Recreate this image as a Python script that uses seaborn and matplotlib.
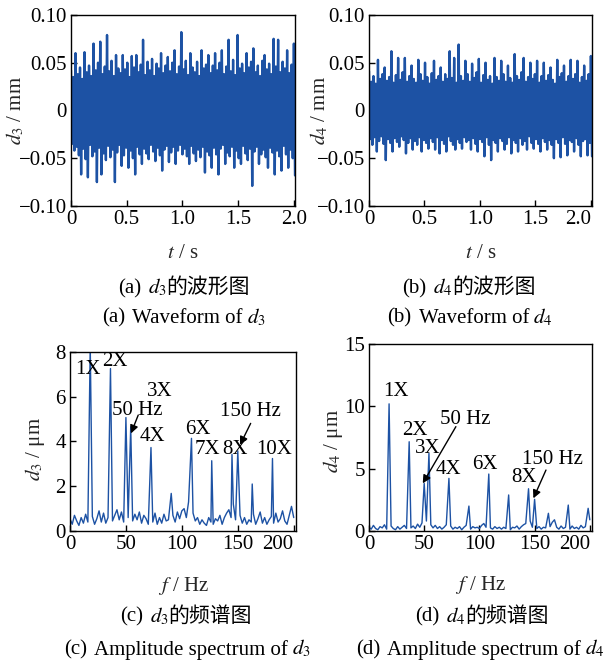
import numpy as np
import pandas as pd
import seaborn as sns
import matplotlib.pyplot as plt

# waveform envelopes (mm), 100 samples each over 0..2 s
d3_upper = [0.042, 0.035, 0.060, 0.038, 0.045, 0.033, 0.061, 0.040, 0.047, 0.036,
            0.070, 0.042, 0.050, 0.072, 0.038, 0.046, 0.079, 0.041, 0.052, 0.036,
            0.058, 0.044, 0.039, 0.058, 0.043, 0.050, 0.035, 0.057, 0.045, 0.058,
            0.040, 0.048, 0.074, 0.037, 0.051, 0.042, 0.054, 0.036, 0.049, 0.044,
            0.060, 0.039, 0.047, 0.056, 0.041, 0.050, 0.063, 0.038, 0.046, 0.082,
            0.043, 0.052, 0.037, 0.060, 0.045, 0.040, 0.051, 0.036, 0.063, 0.044,
            0.048, 0.058, 0.039, 0.047, 0.060, 0.042, 0.050, 0.063, 0.038, 0.046,
            0.074, 0.041, 0.053, 0.037, 0.079, 0.044, 0.049, 0.039, 0.060, 0.045,
            0.051, 0.065, 0.040, 0.047, 0.036, 0.052, 0.058, 0.043, 0.049, 0.038,
            0.075, 0.046, 0.074, 0.040, 0.051, 0.044, 0.063, 0.039, 0.048, 0.070]
d3_lower = [-0.035, -0.042, -0.038, -0.047, -0.067, -0.040, -0.051, -0.070, -0.036, -0.048,
            -0.043, -0.075, -0.039, -0.067, -0.045, -0.052, -0.037, -0.049, -0.041, -0.075,
            -0.044, -0.036, -0.058, -0.047, -0.039, -0.060, -0.042, -0.050, -0.067, -0.038,
            -0.046, -0.056, -0.040, -0.045, -0.051, -0.036, -0.043, -0.053, -0.039, -0.047,
            -0.063, -0.041, -0.037, -0.054, -0.044, -0.038, -0.056, -0.042, -0.036, -0.046,
            -0.040, -0.048, -0.056, -0.037, -0.045, -0.053, -0.041, -0.049, -0.038, -0.065,
            -0.043, -0.047, -0.060, -0.039, -0.046, -0.067, -0.040, -0.036, -0.056, -0.044,
            -0.048, -0.038, -0.060, -0.042, -0.050, -0.056, -0.037, -0.045, -0.052, -0.040,
            -0.079, -0.043, -0.038, -0.056, -0.046, -0.041, -0.049, -0.060, -0.039, -0.044,
            -0.067, -0.042, -0.048, -0.063, -0.037, -0.046, -0.060, -0.041, -0.050, -0.068]
d4_upper = [0.041, 0.030, 0.036, 0.028, 0.053, 0.033, 0.038, 0.045, 0.031, 0.035,
            0.062, 0.029, 0.037, 0.055, 0.032, 0.040, 0.055, 0.030, 0.036, 0.047,
            0.033, 0.029, 0.053, 0.038, 0.031, 0.050, 0.035, 0.028, 0.039, 0.052,
            0.032, 0.036, 0.045, 0.030, 0.038, 0.033, 0.062, 0.034, 0.055, 0.029,
            0.069, 0.036, 0.031, 0.052, 0.038, 0.030, 0.049, 0.034, 0.040, 0.054,
            0.029, 0.037, 0.050, 0.032, 0.036, 0.028, 0.055, 0.035, 0.031, 0.052,
            0.038, 0.030, 0.047, 0.034, 0.029, 0.059, 0.036, 0.032, 0.040, 0.055,
            0.030, 0.035, 0.050, 0.033, 0.038, 0.052, 0.029, 0.036, 0.050, 0.031,
            0.037, 0.045, 0.032, 0.028, 0.053, 0.035, 0.039, 0.047, 0.030, 0.036,
            0.053, 0.033, 0.038, 0.052, 0.029, 0.035, 0.047, 0.031, 0.038, 0.057]
d4_lower = [-0.030, -0.036, -0.028, -0.043, -0.032, -0.027, -0.035, -0.052, -0.030, -0.034,
            -0.043, -0.029, -0.033, -0.038, -0.027, -0.031, -0.045, -0.034, -0.029, -0.041,
            -0.032, -0.036, -0.028, -0.043, -0.031, -0.034, -0.040, -0.029, -0.033, -0.041,
            -0.028, -0.045, -0.031, -0.035, -0.043, -0.027, -0.032, -0.036, -0.041, -0.030,
            -0.034, -0.040, -0.028, -0.033, -0.031, -0.041, -0.029, -0.035, -0.043, -0.030,
            -0.033, -0.048, -0.028, -0.036, -0.052, -0.031, -0.034, -0.043, -0.029, -0.032,
            -0.041, -0.035, -0.028, -0.045, -0.031, -0.034, -0.043, -0.029, -0.036, -0.032,
            -0.041, -0.027, -0.034, -0.040, -0.030, -0.035, -0.043, -0.029, -0.033, -0.041,
            -0.031, -0.036, -0.050, -0.030, -0.034, -0.049, -0.028, -0.035, -0.047, -0.031,
            -0.033, -0.043, -0.029, -0.036, -0.048, -0.032, -0.030, -0.047, -0.034, -0.048]

# spectrum noise floor (um) at 0, 2, 4 ... 200 Hz
d3_floor = [0.55, 0.3, 0.7, 0.45, 0.25, 0.6, 0.35, 0.75, 0.4, 0.5,
            0.65, 0.3, 0.55, 0.9, 0.4, 0.8, 0.35, 0.6, 1.0, 0.45,
            0.7, 0.95, 0.5, 0.85, 0.4, 1.1, 0.6, 0.9, 0.45, 0.75,
            0.5, 0.85, 0.35, 0.7, 0.55, 0.3, 0.65, 0.4, 0.8, 0.3,
            0.6, 0.35, 0.75, 0.45, 0.5, 0.3, 0.7, 0.4, 0.85, 0.55,
            0.9, 1.0, 0.6, 1.3, 1.5, 0.8, 0.45, 0.6, 0.3, 0.5,
            0.35, 0.25, 0.6, 0.4, 0.3, 0.55, 0.45, 0.7, 0.3, 0.6,
            0.8, 0.95, 0.6, 1.2, 0.5, 0.4, 0.7, 0.35, 0.6, 0.3,
            0.5, 0.4, 0.75, 0.3, 0.55, 0.85, 0.35, 0.6, 0.3, 0.5,
            0.65, 0.35, 0.8, 0.4, 0.55, 0.9, 0.45, 0.3, 0.7, 1.1,
            0.6]
d4_floor = [0.3, 0.15, 0.45, 0.2, 0.1, 0.35, 0.25, 0.5, 0.15, 0.3,
            0.4, 0.2, 0.1, 0.35, 0.15, 0.3, 0.45, 0.2, 0.6, 0.25,
            0.4, 0.2, 0.55, 0.3, 0.65, 0.4, 0.8, 0.35, 0.5, 0.25,
            0.45, 0.2, 0.35, 0.15, 0.3, 0.5, 0.2, 0.4, 0.15, 0.3,
            0.2, 0.35, 0.1, 0.3, 0.45, 0.2, 0.15, 0.35, 0.25, 0.3,
            0.2, 0.45, 0.6, 0.3, 0.5, 0.25, 0.15, 0.35, 0.2, 0.3,
            0.15, 0.3, 0.2, 0.45, 0.1, 0.3, 0.25, 0.4, 0.15, 0.35,
            0.5, 0.6, 0.4, 0.8, 0.3, 0.45, 0.2, 0.35, 0.15, 0.3,
            0.25, 0.5, 0.35, 0.7, 0.2, 0.3, 0.15, 0.4, 0.2, 0.3,
            0.35, 0.15, 0.4, 0.2, 0.3, 0.15, 0.45, 0.25, 0.35, 0.6,
            0.9]

# spectral peaks (Hz, um)
d3_peak_f = [18.1, 36.2, 50.0, 54.3, 72.4, 90.5, 108.6, 126.7, 144.8, 150.0, 162.9, 181.0]
d3_peak_a = [8.3, 7.26, 5.07, 4.66, 3.73, 1.68, 4.14, 3.14, 3.42, 3.58, 2.1, 3.24]
d4_peak_f = [18.2, 36.4, 50.0, 54.3, 72.4, 90.5, 108.5, 126.5, 144.5, 150.0, 162.5, 168.0, 180.5, 198.5]
d4_peak_a = [10.2, 7.16, 3.82, 6.23, 4.22, 2.0, 4.57, 2.89, 3.39, 2.54, 1.42, 0.9, 2.08, 1.82]

# peak labels: text, x (Hz), y (um)
d3_labels = ['1X', '2X', '3X', '50 Hz', '4X', '6X', '7X', '8X', '10X', '150 Hz']
d3_lab_x = [16.1, 40.2, 80.4, 60.3, 73.7, 114.7, 122.9, 147.9, 182.3, 160.9]
d3_lab_y = [7.23, 7.56, 6.25, 5.4, 4.21, 4.55, 3.62, 3.62, 3.62, 5.33]
d4_labels = ['1X', '2X', '3X', '50 Hz', '4X', '6X', '8X', '150 Hz']
d4_lab_x = [24.0, 41.3, 53.2, 87.6, 71.7, 104.9, 140.6, 165.9]
d4_lab_y = [11.17, 8.1, 6.63, 8.98, 4.97, 5.37, 4.29, 5.77]
# arrows: (tail, tip)
d3_arrows = [((61.0, 5.18), (54.5, 4.36)), ((161.5, 4.81), (152.0, 3.85))]
d4_arrows = [((78.7, 8.37), (48.7, 3.82)), ((160.3, 4.89), (148.9, 2.62))]

BLUE = '#1d52a4'
FS = 15

sns.set_theme(style='ticks')
plt.rcParams['font.family'] = ['Liberation Serif', 'Noto Sans CJK SC']
plt.rcParams['mathtext.fontset'] = 'stix'
plt.rcParams['axes.unicode_minus'] = True


def wave_frame(upper, lower, t_end):
    y = np.empty(len(upper) * 2)
    y[0::2] = upper
    y[1::2] = lower
    t = np.linspace(0, t_end, len(y))
    return pd.DataFrame({'t': t, 'y': y})


def spec_frame(floor, peak_f, peak_a):
    f = np.arange(0, 2 * len(floor), 2, dtype=float)
    a = np.array(floor)
    keep = np.array([np.min(np.abs(np.array(peak_f) - x)) > 0.6 for x in f])
    df = pd.DataFrame({'f': np.concatenate([f[keep], peak_f]),
                       'a': np.concatenate([a[keep], peak_a])})
    return df.sort_values('f').reset_index(drop=True)


def style_axes(ax):
    for s in ax.spines.values():
        s.set_color('black')
        s.set_linewidth(1.0)
    ax.tick_params(direction='in', length=4, width=1, labelsize=FS, pad=3,
                   top=False, right=False, colors='black')


fig = plt.figure(figsize=(6.09, 6.64), dpi=100)
ax_a = fig.add_axes([0.1166, 0.6898, 0.3678, 0.2877])
ax_b = fig.add_axes([0.6059, 0.6898, 0.3662, 0.2877])
ax_c = fig.add_axes([0.1149, 0.2003, 0.3711, 0.2696])
ax_d = fig.add_axes([0.6059, 0.2003, 0.3662, 0.2816])

# waveforms
for ax, up, lo, sub, ylx in [(ax_a, d3_upper, d3_lower, '3', -0.25),
                             (ax_b, d4_upper, d4_lower, '4', -0.22)]:
    wf = wave_frame(up, lo, 2.01)
    sns.lineplot(data=wf, x='t', y='y', ax=ax, sort=False, estimator=None,
                 color=BLUE, lw=1.7)
    ax.set_xlim(0, 2.01)
    ax.set_ylim(-0.1, 0.1)
    ax.set_xticks([0, 0.5, 1.0, 1.5, 2.0], ['0', '0.5', '1.0', '1.5', '2.0'])
    ax.set_yticks([-0.1, -0.05, 0, 0.05, 0.1],
                  ['\u22120.10', '\u22120.05', '0', '0.05', '0.10'])
    ax.set_xlabel('$t$ / s', fontsize=FS, va='top')
    ax.set_ylabel('$d_%s$ / mm' % sub, fontsize=FS, va='center')
    ax.xaxis.set_label_coords(0.5, -0.20)
    ax.yaxis.set_label_coords(ylx, 0.5)
    style_axes(ax)

# spectra
for ax, fl, pf, pa, sub, ymax, yt, labs, lx, ly, arrows, ylx, yly, xly in [
        (ax_c, d3_floor, d3_peak_f, d3_peak_a, '3', 8, [0, 2, 4, 6, 8],
         d3_labels, d3_lab_x, d3_lab_y, d3_arrows, -0.155, 0.46, -0.245),
        (ax_d, d4_floor, d4_peak_f, d4_peak_a, '4', 15, [0, 5, 10, 15],
         d4_labels, d4_lab_x, d4_lab_y, d4_arrows, -0.16, 0.48, -0.23)]:
    sf = spec_frame(fl, pf, pa)
    sns.lineplot(data=sf, x='f', y='a', ax=ax, sort=False, estimator=None,
                 color=BLUE, lw=1.0)
    ax.set_xlim(0, 202)
    ax.set_ylim(0, ymax)
    ax.set_xticks([0, 50, 100, 150, 200], ['0', '50', '100', '150', '200'])
    ax.set_yticks(yt, [str(v) for v in yt])
    ax.set_xlabel('$f$ / Hz', fontsize=FS, va='top')
    ax.set_ylabel('$d_%s$ / \u03bcm' % sub, fontsize=FS, va='center')
    ax.xaxis.set_label_coords(0.5, xly)
    ax.yaxis.set_label_coords(ylx, yly)
    for s, x, y in zip(labs, lx, ly):
        ax.text(x, y, s, fontsize=FS, ha='center', va='center', color='black')
    for tail, tip in arrows:
        ax.annotate('', xy=tip, xytext=tail,
                    arrowprops=dict(arrowstyle='-|>', color='black', lw=1.0,
                                    mutation_scale=12, shrinkA=0, shrinkB=0))
    style_axes(ax)

for ax in [ax_b, ax_c, ax_d]:
    ax.get_xticklabels()[-1].set_ha('right')


def caption(xc, y, parts, gaps):
    renderer = fig.canvas.get_renderer()
    texts = [fig.text(0, y, s, fontsize=FS, va='baseline', ha='left', color='black')
             for s in parts]
    widths = [t.get_window_extent(renderer).width / fig.bbox.width for t in texts]
    gaps = [g / fig.bbox.width for g in gaps]
    x = xc / 609 - (sum(widths) + sum(gaps)) / 2
    for i, t in enumerate(texts):
        t.set_x(x)
        x += widths[i] + (gaps[i] if i < len(gaps) else 0)


caption(184, 0.5587, ['(a)', '$d_3$', '的波形图'], [7, 0])
caption(184, 0.5136, ['(a)', 'Waveform of', '$d_3$'], [7, 4])
caption(469, 0.5587, ['(b)', '$d_4$', '的波形图'], [7, 0])
caption(470, 0.5136, ['(b)', 'Waveform of', '$d_4$'], [7, 4])
caption(186, 0.0633, ['(c)', '$d_3$', '的频谱图'], [7, 0])
caption(187, 0.0140, ['(c)', 'Amplitude spectrum of', '$d_3$'], [7, 4])
caption(482, 0.0633, ['(d)', '$d_4$', '的频谱图'], [7, 0])
caption(480, 0.0140, ['(d)', 'Amplitude spectrum of', '$d_4$'], [7, 4])

fig.savefig('out.png', dpi=100)
